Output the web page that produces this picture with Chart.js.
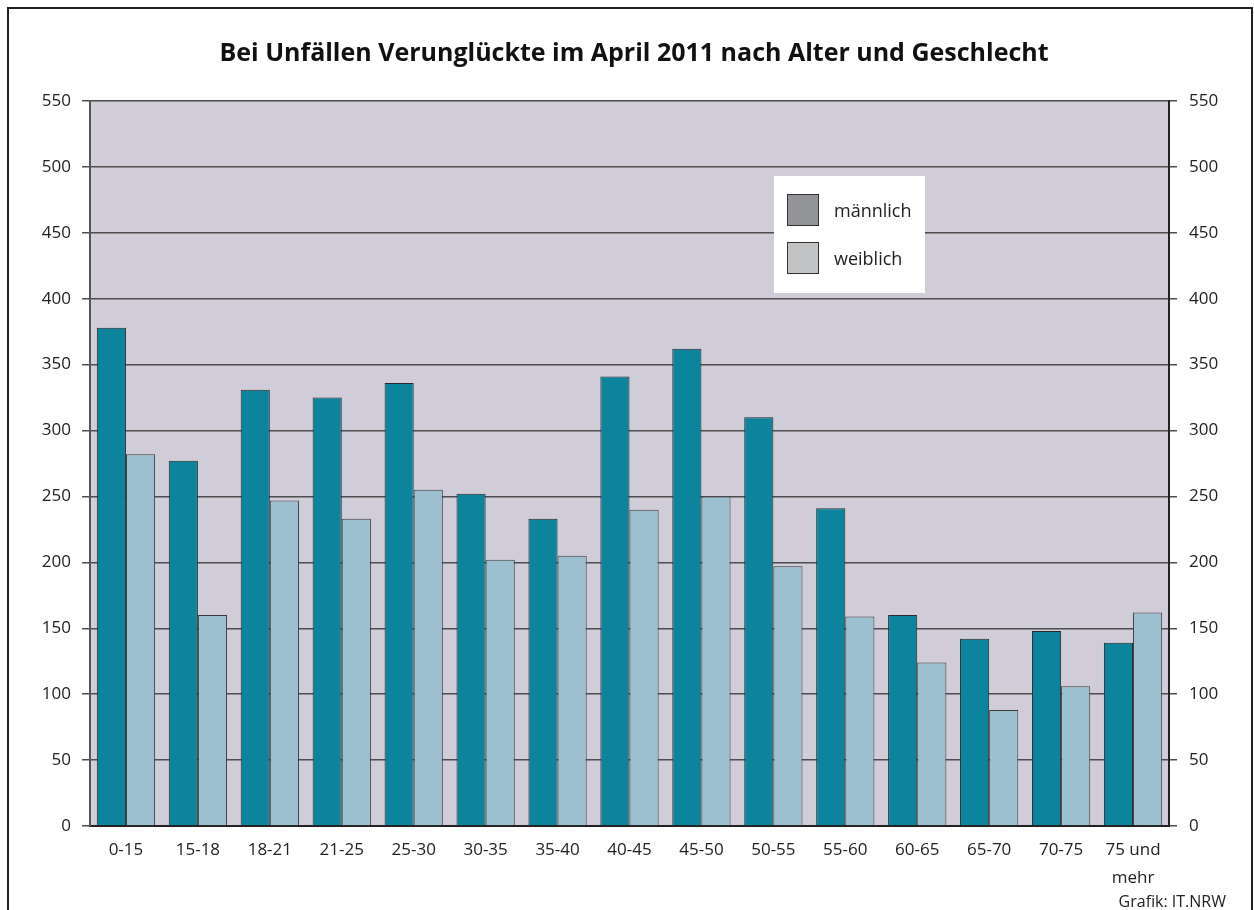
<!DOCTYPE html>
<html>
<head>
<meta charset="utf-8">
<script src="https://cdn.jsdelivr.net/npm/chart.js@4"></script>
<style>
  html, body { margin: 0; padding: 0; background: #fff; }
  #wrap { width: 1254px; height: 910px; }
</style>
</head>
<body>
<div id="wrap"><canvas id="chart" width="1254" height="910"></canvas></div>
<script>
var categories = ['0-15', '15-18', '18-21', '21-25', '25-30', '30-35', '35-40', '40-45',
    '45-50', '50-55', '55-60', '60-65', '65-70', '70-75', ['75 und', 'mehr']];
var maleValues = [378, 277, 331, 325, 336, 252, 233, 341, 362, 310, 241, 160, 142, 148, 139];
var femaleValues = [282, 160, 247, 233, 255, 202, 205, 240, 250, 197, 159, 124, 88, 106, 162];
var seriesLabels = ['männlich', 'weiblich'];
var yMin = 0, yMax = 550, yStep = 50;
var titleText = 'Bei Unfällen Verunglückte im April 2011 nach Alter und Geschlecht';
var sourceText = 'Grafik: IT.NRW';

var FONT = "'Open Sans', 'DejaVu Sans', sans-serif";
var barColors = ['#0d849e', '#9dc0d0'];
var legendColors = ['#929497', '#c1c3c5'];

// background, frame, title, legend box and source note
var decorations = {
    id: 'decorations',
    beforeDraw: function (chart) {
        var ctx = chart.ctx, a = chart.chartArea;
        ctx.save();
        ctx.fillStyle = '#fff';
        ctx.fillRect(0, 0, chart.width, chart.height);
        ctx.fillStyle = '#d0cdd8';
        ctx.fillRect(a.left, a.top, a.right - a.left, a.bottom - a.top);
        ctx.restore();
    },
    afterDraw: function (chart) {
        var ctx = chart.ctx;
        ctx.save();
        // frame (open at the bottom)
        ctx.strokeStyle = '#222';
        ctx.lineWidth = 2;
        ctx.beginPath();
        ctx.moveTo(8, chart.height);
        ctx.lineTo(8, 8);
        ctx.lineTo(1252, 8);
        ctx.lineTo(1252, chart.height);
        ctx.stroke();

        // title
        ctx.fillStyle = '#111';
        ctx.font = 'bold 25px ' + FONT;
        ctx.textAlign = 'center';
        ctx.textBaseline = 'middle';
        ctx.fillText(titleText, 634, 54);

        // legend
        ctx.fillStyle = '#fff';
        ctx.fillRect(774, 176, 151, 117);
        for (var i = 0; i < seriesLabels.length; i++) {
            var y = 194 + i * 48;
            ctx.fillStyle = legendColors[i];
            ctx.fillRect(787, y, 31, 31);
            ctx.strokeStyle = '#333';
            ctx.lineWidth = 1;
            ctx.strokeRect(787.5, y + 0.5, 31, 31);
            ctx.fillStyle = '#222';
            ctx.font = '18px ' + FONT;
            ctx.textAlign = 'left';
            ctx.fillText(seriesLabels[i], 834, y + 18);
        }

        // source
        ctx.font = '16px ' + FONT;
        ctx.textAlign = 'right';
        ctx.fillStyle = '#222';
        ctx.fillText(sourceText, 1226, 902);
        ctx.restore();
    }
};

var tickFont = { family: FONT, size: 17 };

var config = {
    type: 'bar',
    data: {
        labels: categories,
        datasets: [
            {
                label: seriesLabels[0],
                data: maleValues,
                backgroundColor: barColors[0],
                borderColor: '#2a2a2a',
                borderWidth: 1
            },
            {
                label: seriesLabels[1],
                data: femaleValues,
                backgroundColor: barColors[1],
                borderColor: '#3a3a3a',
                borderWidth: 1
            }
        ]
    },
    options: {
        responsive: false,
        animation: false,
        layout: { padding: { top: 101, left: 0, right: 0, bottom: 0 } },
        datasets: { bar: { categoryPercentage: 0.81, barPercentage: 1.0 } },
        plugins: {
            legend: { display: false },
            title: { display: false },
            tooltip: { enabled: false }
        },
        scales: {
            x: {
                offset: true,
                grid: { display: false, drawTicks: false },
                border: { display: true, color: '#222', width: 2 },
                ticks: { color: '#222', font: Object.assign({ lineHeight: 1.6 }, tickFont), padding: 11, maxRotation: 0, autoSkip: false },
                afterFit: function (scale) { scale.height = 84; }
            },
            y: {
                position: 'left',
                min: yMin, max: yMax,
                grid: { color: '#4d4d4d', lineWidth: 1.5, tickLength: 8, tickColor: '#4d4d4d' },
                border: { display: true, color: '#555', width: 2 },
                ticks: { stepSize: yStep, color: '#222', font: tickFont, padding: 11 },
                afterFit: function (scale) { scale.width = 90; }
            },
            y2: {
                position: 'right',
                min: yMin, max: yMax,
                grid: { drawOnChartArea: false, color: '#4d4d4d', lineWidth: 1.5, tickLength: 8 },
                border: { display: true, color: '#222', width: 2 },
                ticks: { stepSize: yStep, color: '#222', font: tickFont, padding: 12 },
                afterFit: function (scale) { scale.width = 85; }
            }
        }
    },
    plugins: [decorations]
};

var chartCtx = document.getElementById('chart').getContext('2d');
window.myBar = new Chart(chartCtx, config);
</script>
</body>
</html>
